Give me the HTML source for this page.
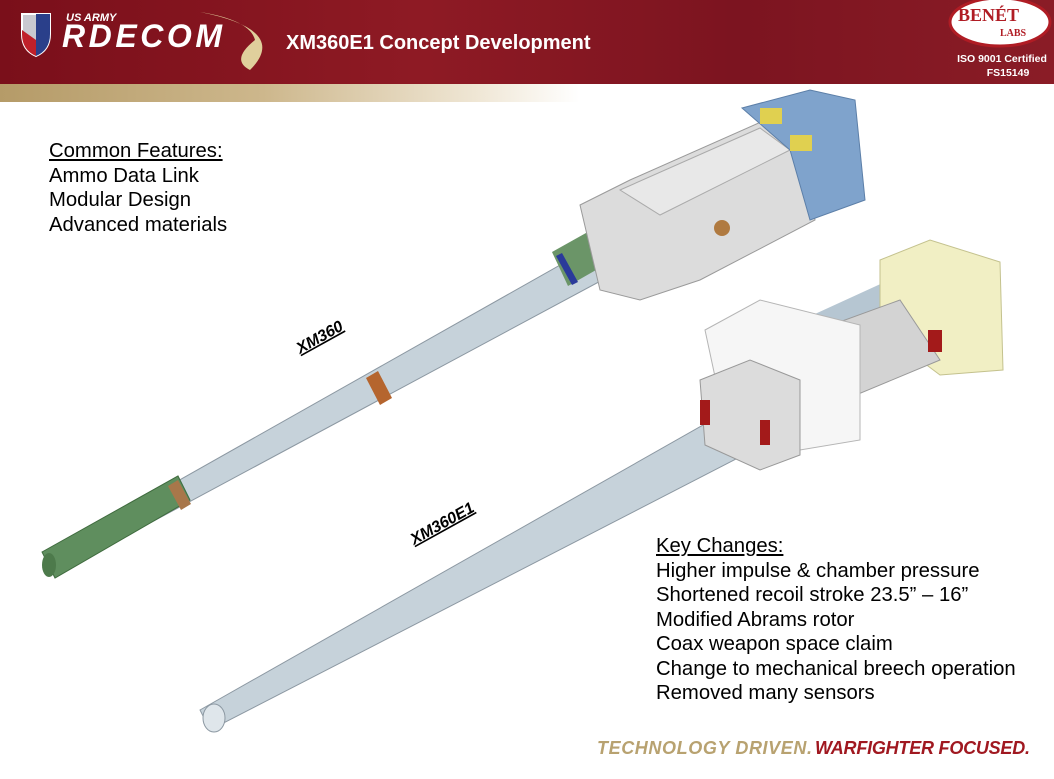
<!DOCTYPE html>
<html><head><meta charset="utf-8"><style>
html,body{margin:0;padding:0}
body{width:1054px;height:779px;position:relative;overflow:hidden;background:#fff;font-family:"Liberation Sans",sans-serif}
.hdr{position:absolute;left:0;top:0;width:1054px;height:84px;background:linear-gradient(90deg,#7a0f1a 0%,#8e1a24 40%,#7c1420 70%,#8a1c26 100%)}
.gold{position:absolute;left:0;top:84px;width:1054px;height:18px;background:linear-gradient(90deg,#b59b68 0%,#cdb78c 25%,#efe6d4 45%,#fff 55%)}
.t{position:absolute;color:#000;font-size:20.3px;line-height:24.5px}
u{text-decoration:underline}
</style></head><body>
<div class="hdr"></div>
<div class="gold"></div>
<svg style="position:absolute;left:0;top:0" width="1054" height="779">
 <path d="M22 14 L50 14 L50 34 Q50 50 36 56 Q22 50 22 34 Z" fill="#c9c9d0" stroke="#fff" stroke-width="2"/>
 <path d="M36 14 L50 14 L50 34 Q50 50 36 56 Z" fill="#2a3f8a"/>
 <path d="M22 30 L36 40 L36 56 Q22 50 22 34 Z" fill="#c0202a"/>
 <path d="M200 12 Q290 30 250 70 Q230 60 255 40 Q250 20 200 12Z" fill="#e0cf9c"/>
 <text x="66" y="21" font-size="11" font-style="italic" font-weight="bold" fill="#fff" font-family="Liberation Sans">US ARMY</text>
 <text x="62" y="47" font-size="32" font-style="italic" font-weight="bold" fill="#fff" font-family="Liberation Sans" textLength="160">RDECOM</text>
 <text x="286" y="49" font-size="20" font-weight="bold" fill="#fff" font-family="Liberation Sans">XM360E1 Concept Development</text>
 <ellipse cx="1000" cy="22" rx="50" ry="24" fill="#fff" stroke="#b01c24" stroke-width="3"/>
 <text x="958" y="21" font-size="18" font-weight="bold" fill="#b01c24" font-family="Liberation Serif">BENÉT</text>
 <text x="1000" y="36" font-size="10" font-weight="bold" fill="#b01c24" font-family="Liberation Serif">LABS</text>
 <text x="1002" y="62" font-size="10.5" font-weight="bold" fill="#fff" text-anchor="middle" font-family="Liberation Sans">ISO 9001 Certified</text>
 <text x="1008" y="76" font-size="10.5" font-weight="bold" fill="#fff" text-anchor="middle" font-family="Liberation Sans">FS15149</text>

 <!-- gun 1 -->
 <polygon points="45,556 592,247 608,277 55,574" fill="#c6d2da" stroke="#8c98a2"/>
 <polygon points="42,552 178,476 190,500 55,578" fill="#5f8e5e" stroke="#3f6b3e"/>
 <ellipse cx="49" cy="565" rx="7" ry="12" fill="#4d7a4b"/>
 <polygon points="552,252 636,205 652,238 568,286" fill="#6b9568"/>
 <polygon points="556,256 562,253 578,282 572,285" fill="#2a3a9a"/>
 <polygon points="366,378 378,371 392,398 380,405" fill="#b5652e"/>
 <polygon points="168,486 178,480 191,504 181,510" fill="#a8774a"/>
 <polygon points="580,205 630,180 770,118 800,130 815,220 700,280 640,300 600,290" fill="#dcdcdc" stroke="#9a9a9a"/>
 <polygon points="620,190 760,128 790,150 660,215" fill="#e8e8e8" stroke="#aaa"/>
 <polygon points="742,108 810,90 855,100 865,200 810,220 790,150" fill="#7fa3cc" stroke="#5c7fa8"/>
 <rect x="760" y="108" width="22" height="16" fill="#e0d050"/>
 <rect x="790" y="135" width="22" height="16" fill="#e0d050"/>
 <circle cx="722" cy="228" r="8" fill="#b07a40"/>

 <!-- gun 2 -->
 <polygon points="200,710 749,399 771,441 210,730" fill="#c6d2da" stroke="#8c98a2"/>
 <ellipse cx="214" cy="718" rx="11" ry="14" fill="#dfe6eb" stroke="#8c98a2"/>
 <polygon points="780,330 900,275 930,330 800,400" fill="#b6c6d2"/>
 <polygon points="880,260 930,240 1000,262 1003,370 940,375 880,330" fill="#f1efc4" stroke="#c4c28e"/>
 <polygon points="790,340 900,300 940,360 820,410" fill="#d3d3d3" stroke="#999"/>
 <polygon points="705,330 760,300 860,325 860,440 800,450 720,400" fill="#f6f6f6" stroke="#b5b5b5"/>
 <polygon points="700,380 750,360 800,380 800,455 760,470 705,445" fill="#dcdcdc" stroke="#999"/>
 <rect x="700" y="400" width="10" height="25" fill="#a31a1a"/>
 <rect x="760" y="420" width="10" height="25" fill="#a31a1a"/>
 <rect x="928" y="330" width="14" height="22" fill="#a31a1a"/>

 <text transform="translate(300,354) rotate(-29)" font-size="16" font-weight="bold" font-style="italic" text-decoration="underline" fill="#000" font-family="Liberation Sans">XM360</text>
 <text transform="translate(414,545) rotate(-29)" font-size="16" font-weight="bold" font-style="italic" text-decoration="underline" fill="#000" font-family="Liberation Sans">XM360E1</text>
 <text x="597" y="754" font-size="18" font-weight="bold" font-style="italic" fill="#b8a270" font-family="Liberation Sans" textLength="215">TECHNOLOGY DRIVEN.</text>
 <text x="815" y="754" font-size="18" font-weight="bold" font-style="italic" fill="#a01820" font-family="Liberation Sans" textLength="215">WARFIGHTER FOCUSED.</text>
</svg>
<div class="t" style="left:49px;top:139px"><u>Common Features:</u><br>Ammo Data Link<br>Modular Design<br>Advanced materials</div>
<div class="t" style="left:656px;top:534px"><u>Key Changes:</u><br>Higher impulse &amp; chamber pressure<br>Shortened recoil stroke 23.5” – 16”<br>Modified Abrams rotor<br>Coax weapon space claim<br>Change to mechanical breech operation<br>Removed many sensors</div>
</body></html>
